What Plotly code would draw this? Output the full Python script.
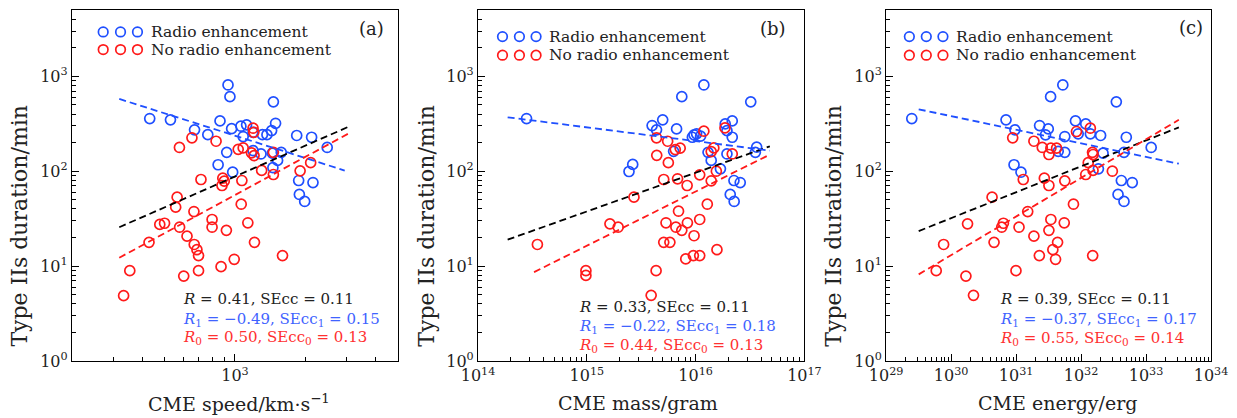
import plotly.graph_objects as go

FONT = "DejaVu Serif"
BLUE = "#1f4fff"
RED = "#ff1a1a"
BLUE_TXT = "#3f63ff"
RED_TXT = "#ff3030"
TXT = "#222"

# ---------------- Panel (a): CME speed ----------------
a_blue_speed = [934, 952, 1462, 431, 529, 863, 1494, 671, 968, 1061, 1122, 1196, 1437, 765, 1085,
                1312, 1372, 1841, 2133, 2488, 922, 1196, 1294, 1447, 1580, 1524, 847, 978, 1455,
                1877, 2162, 1890, 1992]
a_blue_dur = [811, 611, 538, 359, 348, 339, 320, 273, 281, 298, 308, 257, 268, 243, 232, 243, 243,
              238, 228, 178, 158, 165, 152, 155, 158, 130, 117, 97.6, 109, 79.8, 76, 56.9, 48]
a_red_speed = [1196, 1205, 654, 830, 578, 1033, 1085, 1178, 1208, 1462, 2113, 1302, 1904, 1462, 715,
               887, 900, 880, 1071, 565, 1064, 557, 667, 798, 798, 476, 499, 579, 1136, 919, 623,
               428, 1213, 669, 687, 698, 1600, 993, 872, 354, 698, 603, 333]
a_red_dur = [284, 257, 225, 207, 178, 170, 176, 156, 146, 158, 123, 102, 101, 92.3, 81.8, 84.4, 78.5,
             70.7, 79.8, 53.3, 44.9, 41.8, 37.6, 31.0, 25.7, 27.5, 28.3, 25.7, 28.6, 23.8, 20.7,
             17.8, 17.8, 16.9, 14.9, 12.9, 12.9, 11.8, 9.86, 8.95, 8.95, 7.85, 4.88]
a_fit_x = [319, 3085]
a_fit_all = [25.7, 295.5]
a_fit_red_x = [319, 3138]
a_fit_red = [12.25, 257]
a_fit_blue_x = [319, 2958]
a_fit_blue = [578, 101.7]
a_stats = ["<i>R</i> = 0.41, SEcc = 0.11",
           "<i>R</i><sub>1</sub> = \u22120.49, SEcc<sub>1</sub> = 0.15",
           "<i>R</i><sub>0</sub> = 0.50, SEcc<sub>0</sub> = 0.13"]
a_xticks_exp = [3]

# ---------------- Panel (b): CME mass ----------------
b_blue_mass = [1.19e16, 7.46e15, 3.21e16, 2.79e14, 4.98e15, 3.98e15, 2.17e16, 1.87e16, 4.37e15,
               6.68e15, 1.94e16, 9.67e15, 1.02e16, 9.33e15, 1.11e16, 2.17e16, 3.64e16, 3.54e16,
               6.27e15, 1.30e16, 1.94e16, 1.39e16, 2.64e15, 2.44e15, 1.69e16, 2.25e16, 2.57e16,
               2.08e16, 2.26e16]
b_blue_dur = [811, 611, 538, 359, 348, 303, 339, 315, 273, 279, 268, 242, 248, 228, 234, 228, 179,
              158, 162, 158, 152, 130, 118, 99.3, 106, 79.8, 76, 56.9, 48]
b_red_mass = [1.19e16, 1.86e16, 4.37e15, 5.53e15, 6.5e15, 7.21e15, 4.39e15, 5.61e15, 1.47e16,
              1.39e16, 2.17e16, 5.09e15, 6.82e15, 8.35e15, 1.09e16, 1.39e16, 1.55e16, 2.71e15,
              1.28e16, 6.96e15, 1.63e15, 1.94e15, 3.51e14, 5.34e15, 6.58e15, 7.46e15, 8.4e15,
              1.09e16, 9.67e15, 5.09e15, 5.8e15, 8.11e15, 9.53e15, 1.09e16, 1.57e16, 9.8e14,
              9.8e14, 4.33e15, 3.9e15]
b_red_dur = [264, 286, 225, 207, 169, 175, 147, 123, 176, 161, 152, 81.8, 83.2, 70.7, 91.6, 79.2,
             100, 53.3, 44.9, 37.9, 27.9, 25.7, 16.9, 28.6, 25.7, 23.8, 28.6, 31.0, 20.9, 17.8,
             17.8, 11.9, 12.9, 12.9, 14.9, 8.95, 7.98, 8.95, 4.92]
b_fit_x = [1.87e14, 4.81e16]
b_fit_all = [19.0, 183]
b_fit_red_x = [3.27e14, 4.81e16]
b_fit_red = [8.65, 150]
b_fit_blue_x = [1.87e14, 4.81e16]
b_fit_blue = [370, 165]
b_stats = ["<i>R</i> = 0.33, SEcc = 0.11",
           "<i>R</i><sub>1</sub> = \u22120.22, SEcc<sub>1</sub> = 0.18",
           "<i>R</i><sub>0</sub> = 0.44, SEcc<sub>0</sub> = 0.13"]
b_xticks_exp = [14, 15, 16, 17]

# ---------------- Panel (c): CME energy ----------------
c_blue_energy = [5.24e31, 3.40e31, 3.49e32, 2.48e29, 7.0e30, 9.6e30, 2.30e31, 3.13e31, 2.84e31,
                 8.2e31, 1.18e32, 9.03e31, 1.39e32, 2.0e32, 5.62e31, 4.97e32, 1.2e33, 4.45e31,
                 5.62e31, 2.18e32, 4.58e32, 1.85e32, 9.3e30, 1.19e31, 4.17e32, 6.14e32, 3.71e32,
                 4.58e32]
c_blue_dur = [811, 611, 538, 359, 348, 273, 303, 279, 242, 339, 315, 248, 248, 238, 232, 228, 178,
              162, 158, 155, 158, 106, 117, 97.6, 79.8, 76, 56.9, 48]
c_red_energy = [8.5e31, 1.39e32, 8.87e30, 1.88e31, 2.53e31, 3.43e31, 4.2e31, 3.2e31, 1.5e32,
                1.53e32, 1.29e32, 3.03e32, 1.53e32, 1.18e32, 1.29e31, 2.72e31, 3.2e31, 5.62e31,
                4.27e30, 7.64e31, 1.51e31, 1.79e30, 6.38e30, 6.01e30, 1.11e31, 3.43e31, 5.51e31,
                3.2e31, 1.88e31, 7.67e29, 4.58e30, 4.35e31, 3.68e31, 2.28e31, 4.05e31, 1.51e32,
                5.9e29, 9.96e30, 1.69e30, 2.21e30]
c_red_dur = [262, 284, 225, 207, 178, 175, 175, 150, 158, 150, 123, 100, 102, 92.3, 81.8, 84.4,
             70.7, 79.2, 53.3, 44.9, 37.6, 27.9, 28.3, 25.7, 25.7, 31.0, 28.6, 23.8, 20.7, 16.9,
             17.8, 17.8, 14.9, 12.9, 11.8, 12.9, 8.95, 8.95, 7.85, 4.92]
c_fit_x = [3.17e29, 3.2e33]
c_fit_all = [23.4, 290]
c_fit_red_x = [3.17e29, 3.2e33]
c_fit_red = [8.18, 348]
c_fit_blue_x = [3.17e29, 3.2e33]
c_fit_blue = [449, 120]
c_stats = ["<i>R</i> = 0.39, SEcc = 0.11",
           "<i>R</i><sub>1</sub> = \u22120.37, SEcc<sub>1</sub> = 0.17",
           "<i>R</i><sub>0</sub> = 0.55, SEcc<sub>0</sub> = 0.14"]
c_xticks_exp = [29, 30, 31, 32, 33, 34]

y_ticks_exp = [0, 1, 2, 3]
panel_labels = ["(a)", "(b)", "(c)"]
x_titles = ["CME speed/km\u00b7s<sup>\u22121</sup>", "CME mass/gram", "CME energy/erg"]
y_title = "Type IIs duration/min"
legend_names = ["Radio enhancement", "No radio enhancement"]

# ---------------- layout geometry (pixels) ----------------
W, H = 1237, 418
ML, MR, MT, MB = 72, 22, 9, 57
PW, PH = W - ML - MR, H - MT - MB


def px(x):
    return (x - ML) / PW


def py(y):
    return (H - MB - y) / PH


def log_ticks(exps):
    vals = [10.0 ** e for e in exps]
    texts = ["10<sup>%d</sup>" % e for e in exps]
    return vals, texts


def minor_vals(lo, hi):
    out = []
    for e in range(lo, hi + 1):
        for k in range(2, 10):
            out.append(k * 10.0 ** e)
    return out


domains = [[px(72), px(399)], [px(479.5), px(807)], [px(889), px(1215)]]
xranges = [[2.30103, 3.69897], [14, 17], [29, 34]]
x_exps = [a_xticks_exp, b_xticks_exp, c_xticks_exp]
x_minor = [minor_vals(2, 3), minor_vals(14, 16), minor_vals(29, 33)]

panels = [
    (a_blue_speed, a_blue_dur, a_red_speed, a_red_dur, a_fit_x, a_fit_all, a_fit_red_x, a_fit_red,
     a_fit_blue_x, a_fit_blue, a_stats),
    (b_blue_mass, b_blue_dur, b_red_mass, b_red_dur, b_fit_x, b_fit_all, b_fit_red_x, b_fit_red,
     b_fit_blue_x, b_fit_blue, b_stats),
    (c_blue_energy, c_blue_dur, c_red_energy, c_red_dur, c_fit_x, c_fit_all, c_fit_red_x, c_fit_red,
     c_fit_blue_x, c_fit_blue, c_stats),
]

# text placement per panel (pixels)
legend_cx = [[103.3, 120.7, 137.7], [504, 521, 537.7], [912.3, 929.3, 946]]
legend_tx = [149, 549, 957.5]
legend_y = [[31, 48.7], [35.7, 54.3], [35.7, 54.3]]
label_pos = [(387, 28), (791, 28), (1209, 27)]
stats_x = [181.7, 579, 1001.7]
stats_y = [[299.3, 319.3, 337.3], [307.3, 326, 345], [299.3, 319.3, 338.3]]
xtitle_pos = [(239.5, 403), (640, 403), (1061.5, 403)]
ytitle_pos = [(19, 225), (427.5, 225), (836, 225)]

fig = go.Figure()
annotations = []
shapes = []
tick_font = dict(family=FONT, size=16, color=TXT)
yv, yt = log_ticks(y_ticks_exp)

for i, (bx, by, rx, ry, fx, fa, frx, fr, fbx, fb, stats) in enumerate(panels):
    sfx = "" if i == 0 else str(i + 1)
    xa, ya = "x" + sfx, "y" + sfx
    fig.add_trace(go.Scatter(x=bx, y=by, xaxis=xa, yaxis=ya, mode="markers", showlegend=False,
                             marker=dict(symbol="circle-open", size=10, color=BLUE,
                                         line=dict(width=1.7, color=BLUE))))
    fig.add_trace(go.Scatter(x=rx, y=ry, xaxis=xa, yaxis=ya, mode="markers", showlegend=False,
                             marker=dict(symbol="circle-open", size=10, color=RED,
                                         line=dict(width=1.7, color=RED))))
    fig.add_trace(go.Scatter(x=fx, y=fa, xaxis=xa, yaxis=ya, mode="lines", showlegend=False,
                             line=dict(color="black", width=1.8, dash="7px,4px")))
    fig.add_trace(go.Scatter(x=fbx, y=fb, xaxis=xa, yaxis=ya, mode="lines", showlegend=False,
                             line=dict(color=BLUE, width=1.8, dash="7px,4px")))
    fig.add_trace(go.Scatter(x=frx, y=fr, xaxis=xa, yaxis=ya, mode="lines", showlegend=False,
                             line=dict(color=RED, width=1.8, dash="7px,4px")))

    axis_common = dict(type="log", showgrid=False, zeroline=False, showline=True,
                       linecolor="black", linewidth=1.3, mirror=True, ticks="inside", ticklen=7,
                       tickwidth=1.1, tickcolor="black", tickfont=tick_font, tickmode="array")
    xv, xt = log_ticks(x_exps[i])
    fig.update_layout(**{
        "xaxis" + sfx: dict(axis_common, domain=domains[i], range=xranges[i], anchor=ya,
                            tickvals=xv, ticktext=xt,
                            minor=dict(ticks="inside", ticklen=4, tickwidth=1, tickcolor="black",
                                       tickmode="array", tickvals=x_minor[i], showgrid=False)),
        "yaxis" + sfx: dict(axis_common, domain=[0, 1], range=[0, 3.69897], anchor=xa,
                            tickvals=yv, ticktext=yt,
                            minor=dict(ticks="inside", ticklen=4, tickwidth=1, tickcolor="black",
                                       tickmode="array", tickvals=minor_vals(0, 3), showgrid=False)),
    })

    # axis titles
    tx, ty = xtitle_pos[i]
    annotations.append(dict(text=x_titles[i], xref="paper", yref="paper", x=px(tx), y=py(ty),
                            xanchor="center", yanchor="middle", showarrow=False,
                            font=dict(family=FONT, size=19, color=TXT)))
    tx, ty = ytitle_pos[i]
    annotations.append(dict(text=y_title, xref="paper", yref="paper", x=px(tx), y=py(ty),
                            xanchor="center", yanchor="middle", showarrow=False, textangle=-90,
                            font=dict(family=FONT, size=22, color=TXT)))

    # legend markers (three circles) and labels
    for row, col in enumerate([BLUE, RED]):
        yc = legend_y[i][row]
        for cx in legend_cx[i]:
            shapes.append(dict(type="circle", xref="paper", yref="paper",
                               x0=px(cx - 4.8), x1=px(cx + 4.8), y0=py(yc + 4.8), y1=py(yc - 4.8),
                               line=dict(color=col, width=1.7)))
        annotations.append(dict(text=legend_names[row], xref="paper", yref="paper",
                                x=px(legend_tx[i]), y=py(yc), xanchor="left", yanchor="middle",
                                showarrow=False, font=dict(family=FONT, size=15.5, color=TXT)))
    lx, ly = label_pos[i]
    annotations.append(dict(text=panel_labels[i], xref="paper", yref="paper", x=px(lx), y=py(ly),
                            xanchor="right", yanchor="middle", showarrow=False,
                            font=dict(family=FONT, size=18, color=TXT)))
    for k, (txt, col) in enumerate(zip(stats, [TXT, BLUE_TXT, RED_TXT])):
        annotations.append(dict(text=txt, xref="paper", yref="paper", x=px(stats_x[i]),
                                y=py(stats_y[i][k]), xanchor="left", yanchor="middle",
                                showarrow=False, font=dict(family=FONT, size=15, color=col)))

fig.update_layout(width=W, height=H, margin=dict(l=ML, r=MR, t=MT, b=MB),
                  paper_bgcolor="white", plot_bgcolor="white", showlegend=False,
                  annotations=annotations, shapes=shapes)
fig.write_html("out.html")
